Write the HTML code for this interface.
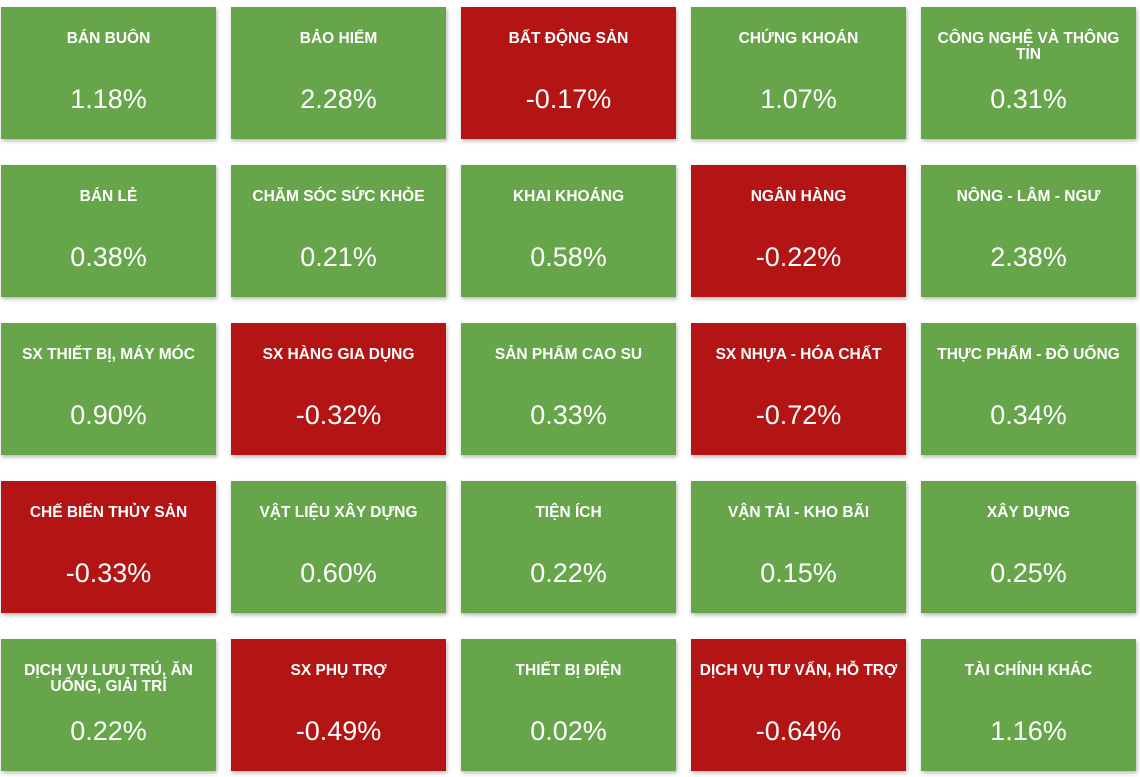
<!DOCTYPE html>
<html><head><meta charset="utf-8"><style>
body{margin:0;width:1140px;height:777px;background:#fff;position:relative;overflow:hidden;font-family:"Liberation Sans",Arial,sans-serif}
.t{position:absolute;width:215px;height:132px;box-shadow:1px 2px 4px rgba(0,0,0,.3);color:#fff;text-align:center}
.g{background:#67a54b}.r{background:#b31515}
.n{position:absolute;left:4px;right:4px;top:24px;font-size:15.5px;font-weight:bold;line-height:16px}
.v{position:absolute;left:0;right:0;top:77px;font-size:27px;line-height:30px}
</style></head><body>
<div id="grid"></div>
<script>
const names=["BÁN BUÔN","BẢO HIỂM","BẤT ĐỘNG SẢN","CHỨNG KHOÁN","CÔNG NGHỆ VÀ THÔNG TIN","BÁN LẺ","CHĂM SÓC SỨC KHỎE","KHAI KHOÁNG","NGÂN HÀNG","NÔNG - LÂM - NGƯ","SX THIẾT BỊ, MÁY MÓC","SX HÀNG GIA DỤNG","SẢN PHẨM CAO SU","SX NHỰA - HÓA CHẤT","THỰC PHẨM - ĐỒ UỐNG","CHẾ BIẾN THỦY SẢN","VẬT LIỆU XÂY DỰNG","TIỆN ÍCH","VẬN TẢI - KHO BÃI","XÂY DỰNG","DỊCH VỤ LƯU TRÚ, ĂN UỐNG, GIẢI TRÍ","SX PHỤ TRỢ","THIẾT BỊ ĐIỆN","DỊCH VỤ TƯ VẤN, HỖ TRỢ","TÀI CHÍNH KHÁC"];
const values=[1.18,2.28,-0.17,1.07,0.31,0.38,0.21,0.58,-0.22,2.38,0.90,-0.32,0.33,-0.72,0.34,-0.33,0.60,0.22,0.15,0.25,0.22,-0.49,0.02,-0.64,1.16];
const grid=document.getElementById('grid');
names.forEach((nm,i)=>{
 const d=document.createElement('div');
 d.className='t '+(values[i]<0?'r':'g');
 d.style.left=(1+(i%5)*230)+'px';
 d.style.top=(7+Math.floor(i/5)*158)+'px';
 
 
 const n=document.createElement('div');n.className='n';n.textContent=nm;
 
 
 const v=document.createElement('div');v.className='v';v.textContent=values[i].toFixed(2)+'%';
 
 
 d.appendChild(n);d.appendChild(v);grid.appendChild(d);
});
</script>
</body></html>
